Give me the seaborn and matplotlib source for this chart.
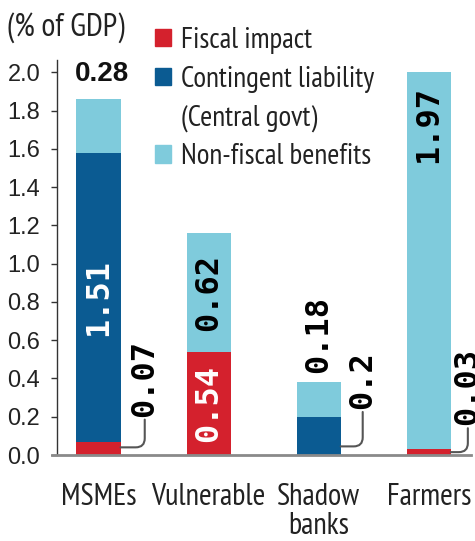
import matplotlib
matplotlib.use("Agg")
import matplotlib.pyplot as plt
import seaborn as sns
import numpy as np

# Support-package cost by beneficiary group, % of GDP
categories = ["MSMEs", "Vulnerable", "Shadow\nbanks", "Farmers"]
fiscal_impact = [0.07, 0.54, 0.0, 0.03]
contingent_liability = [1.51, 0.0, 0.2, 0.0]
non_fiscal_benefits = [0.28, 0.62, 0.18, 1.97]
y_ticks = [0.0, 0.2, 0.4, 0.6, 0.8, 1.0, 1.2, 1.4, 1.6, 1.8, 2.0]
legend_labels = ["Fiscal impact", "Contingent liability", "(Central govt)", "Non-fiscal benefits"]

RED = "#d4212d"
DARK_BLUE = "#0b5b92"
LIGHT_BLUE = "#7fcbdc"
INK = "#222222"

sns.set_theme(style="white")
NARROW = ["PT Sans Narrow", "Roboto Condensed", "DejaVu Sans"]
plt.rcParams["font.family"] = ["Liberation Sans", "DejaVu Sans"]

fig = plt.figure(figsize=(4.75, 5.41), dpi=100)
ax = fig.add_axes([57 / 475, 1 - 455 / 541, 1 - 57 / 475, (455 - 60) / 541])

bar_w = 0.4
fiscal = np.array(fiscal_impact)
contingent = np.array(contingent_liability)
nonfiscal = np.array(non_fiscal_benefits)

common = dict(x=categories, width=bar_w, errorbar=None, saturation=1, linewidth=0, ax=ax)
sns.barplot(y=fiscal, color=RED, **common)
sns.barplot(y=contingent, bottom=fiscal, color=DARK_BLUE, **common)
sns.barplot(y=nonfiscal, bottom=fiscal + contingent, color=LIGHT_BLUE, **common)

ax.set_xlim(-0.377, 3.42)
ax.set_ylim(0, 2.065)
ax.set_yticks(y_ticks)
ax.set_yticklabels([f"{t:.1f}" for t in y_ticks])
ax.set_xlabel("")
ax.set_ylabel("")

for s in ["top", "right"]:
    ax.spines[s].set_visible(False)
ax.spines["left"].set_color("#333333")
ax.spines["left"].set_linewidth(1.0)
ax.spines["bottom"].set_color("#8a8a8a")
ax.spines["bottom"].set_linewidth(2.0)
ax.spines["bottom"].set_bounds(-0.42, 3.38)
ax.spines["bottom"].set_clip_on(False)

ax.tick_params(axis="y", left=True, length=4, width=1, color="#333333",
               labelsize=17, pad=8, labelcolor=INK)
ax.tick_params(axis="x", bottom=False, labelsize=22, pad=14, labelcolor=INK)
for lbl in ax.get_xticklabels():
    lbl.set_linespacing(1.05)
    lbl.set_family(NARROW)

mono = dict(family="DejaVu Sans Mono", fontweight="bold", fontsize=23)
tops = fiscal + contingent + nonfiscal


def fmt(v):
    return f"{v:g}"


# values printed inside their segment, centred
inside = [
    (0, contingent[0], fiscal[0] + contingent[0] / 2, "white"),
    (1, fiscal[1], fiscal[1] / 2, "white"),
    (1, nonfiscal[1], fiscal[1] + nonfiscal[1] / 2, "black"),
]
for i, v, y, c in inside:
    ax.text(i, y, fmt(v), rotation=90, ha="center", va="center", color=c, **mono)

# Farmers: label near the top of the tall segment
ax.text(3, tops[3] - 0.07, fmt(nonfiscal[3]), rotation=90, ha="center", va="top",
        color="black", **mono)
# Shadow banks: label above the bar
ax.text(2, tops[2] + 0.05, fmt(nonfiscal[2]), rotation=90, ha="center", va="bottom",
        color="black", **mono)
# MSMEs: horizontal label above the bar
ax.text(0.03, tops[0] + 0.065, fmt(nonfiscal[0]), ha="center", va="bottom",
        color="#111111", fontsize=20, fontweight="bold")

# thin segments labelled beside the bar with a curved leader
leaders = [
    (0, fiscal[0], 0.04, 0.185, 0.42),
    (2, contingent[2], 0.045, 0.225, 0.40),
    (3, fiscal[3], 0.015, 0.14, 0.355),
]
for i, v, y_from, y_label, dx in leaders:
    x_lab = i + dx
    ax.annotate("", xy=(i + bar_w / 2, y_from), xytext=(x_lab, y_label),
                arrowprops=dict(arrowstyle="-", color="#555555", lw=1.5,
                                shrinkA=0, shrinkB=0,
                                connectionstyle="angle,angleA=-90,angleB=0,rad=9"),
                annotation_clip=False)
    ax.text(x_lab, y_label + 0.015, fmt(v), rotation=90, ha="center", va="bottom",
            color="black", clip_on=False, **mono)

# legend with the second label split across two rows
handles = [plt.Rectangle((0, 0), 1, 1, color=c) for c in (RED, DARK_BLUE)]
handles.append(plt.Rectangle((0, 0), 1, 1, color="none"))
handles.append(plt.Rectangle((0, 0), 1, 1, color=LIGHT_BLUE))
fig.legend(handles, legend_labels, loc="upper left",
           bbox_to_anchor=(155 / 475, 1 - 27 / 541),
           frameon=False, prop=dict(family=NARROW, size=21),
           handlelength=0.55, handleheight=0.55,
           handletextpad=0.33, labelspacing=0.4, borderaxespad=0, borderpad=0,
           labelcolor=INK)

fig.text(7 / 475, 1 - 28 / 541, "(% of GDP)", ha="left", va="center",
         fontsize=23, color=INK, family=NARROW)

fig.savefig("out.png", dpi=100)
